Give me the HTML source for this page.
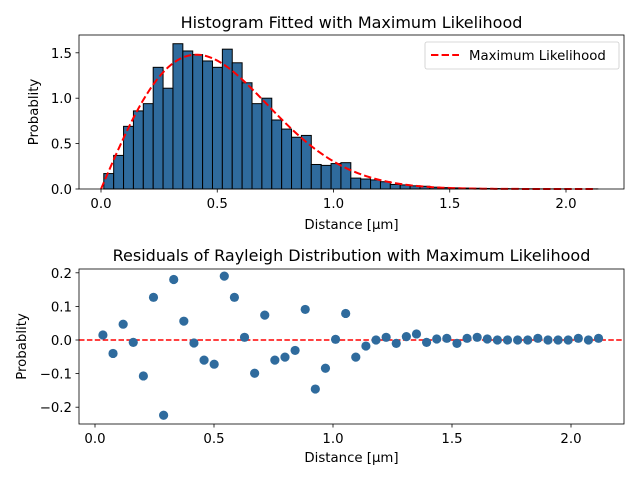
<!DOCTYPE html>
<html><head><meta charset="utf-8"><style>
body{margin:0;background:#fff}
svg{display:block;font-family:"DejaVu Sans","Liberation Sans",sans-serif}
</style></head><body>
<svg id="fig" width="640" height="480" viewBox="0 0 640 480"></svg>
<script>
const binStart = 0.012;
const binWidth = 0.0425;
const histHeights = [0.17,0.37,0.69,0.86,0.94,1.34,1.11,1.60,1.52,1.48,1.41,1.34,1.54,1.39,1.17,0.94,1.00,0.76,0.66,0.57,0.59,0.27,0.26,0.28,0.29,0.12,
 0.11,0.10,0.08,0.05,0.045,0.035,0.03,0.02,0.015,0.012,0.01,0.008,0.006,0.005,0.004,0.003,0.002,0.002,0.001,0.001,0.001,0,0,0.001];
const residuals = [0.015,-0.04,0.047,-0.007,-0.107,0.127,-0.224,0.18,0.056,-0.009,-0.06,-0.072,0.19,0.127,0.008,-0.099,0.074,-0.06,-0.051,-0.031,0.091,-0.146,-0.084,0.002,0.079,-0.051,-0.018,
 0,0.008,-0.01,0.01,0.018,-0.007,0.003,0.005,-0.01,0.005,0.008,0.003,0,0,0,0,0.005,0,0,0,0.005,0,0.005];
const sigma = 0.41;
const xTicks = [0.0,0.5,1.0,1.5,2.0];
const xTickLabels = ["0.0","0.5","1.0","1.5","2.0"];
const topYTicks = [0,0.5,1.0,1.5];
const topYTickLabels = ["0.0","0.5","1.0","1.5"];
const botYTicks = [0.2,0.1,0,-0.1,-0.2];
const botYTickLabels = ["0.2","0.1","0.0","\u22120.1","\u22120.2"];

const NS="http://www.w3.org/2000/svg";
const svg=document.getElementById('fig');
function mk(tag,attrs,parent){const e=document.createElementNS(NS,tag);for(const k in attrs)e.setAttribute(k,attrs[k]);(parent||svg).appendChild(e);return e;}
function txt(s,attrs,parent){const e=mk('text',attrs,parent);e.textContent=s;return e;}
const FS=13.3, TFS=16;

const T={l:79,r:624,t:35,b:189};
const tx=v=>101+v*232.5;
const ty=v=>189-v*90.8;
const B={l:79,r:624,t:269,b:424};
const bx=v=>95+v*238;
const by=v=>340-v*336;

function axes(name){
  const g=mk('g',{});
  
  
  return g;
}
const gt=axes('histogram-axes');
histHeights.forEach((h,i)=>{
  const x0=tx(binStart+i*binWidth), x1=tx(binStart+(i+1)*binWidth);
  const r=mk('rect',{x:x0,y:ty(h),width:x1-x0,height:ty(0)-ty(h),fill:'#2f6b9d',stroke:'#000','stroke-width':1},gt);
  
  
});
let d='';
for(let i=0;i<=200;i++){const x=i*2.13/200;const y=x/(sigma*sigma)*Math.exp(-x*x/(2*sigma*sigma));d+=(i?'L':'M')+tx(x).toFixed(2)+','+ty(y).toFixed(2);}
const fit=mk('path',{d:d,fill:'none',stroke:'#ff0000','stroke-width':2,'stroke-dasharray':'7.4,3.2'},gt);


mk('rect',{x:T.l,y:T.t,width:T.r-T.l,height:T.b-T.t,fill:'none',stroke:'#000','stroke-width':0.8},gt);
xTicks.forEach((v,i)=>{mk('line',{x1:tx(v),x2:tx(v),y1:T.b,y2:T.b+3.5,stroke:'#000','stroke-width':0.8},gt);
  const t=txt(xTickLabels[i],{x:tx(v),y:T.b+19,'font-size':FS,'text-anchor':'middle'},gt);});
topYTicks.forEach((v,i)=>{mk('line',{x1:T.l-3.5,x2:T.l,y1:ty(v),y2:ty(v),stroke:'#000','stroke-width':0.8},gt);
  const t=txt(topYTickLabels[i],{x:T.l-7,y:ty(v)+5,'font-size':FS,'text-anchor':'end'},gt);});
let t1=txt('Histogram Fitted with Maximum Likelihood',{x:(T.l+T.r)/2,y:28,'font-size':TFS,'text-anchor':'middle'},gt);

let xl1=txt('Distance [\u03bcm]',{x:(T.l+T.r)/2,y:229,'font-size':FS,'text-anchor':'middle'},gt);

let yl1=txt('Probablity',{x:0,y:0,'font-size':FS,'text-anchor':'middle',transform:`translate(38,${(T.t+T.b)/2}) rotate(-90)`},gt);

const lg=mk('g',{},gt);

mk('rect',{x:425,y:42,width:194,height:27,rx:2,fill:'#fff',stroke:'#ccc','stroke-width':0.8},lg);
mk('line',{x1:431,x2:459,y1:55,y2:55,stroke:'#ff0000','stroke-width':2,'stroke-dasharray':'7.4,3.2'},lg);
let le=txt('Maximum Likelihood',{x:469,y:60,'font-size':FS},lg);


const gb=axes('residuals-axes');
const zl=mk('line',{x1:B.l,x2:B.r,y1:by(0),y2:by(0),stroke:'#ff0000','stroke-width':1.5,'stroke-dasharray':'5.5,2.4'},gb);


residuals.forEach((r,i)=>{
  const c=mk('circle',{cx:bx(binStart+(i+0.5)*binWidth),cy:by(r),r:4.6,fill:'#2f6b9d'},gb);
  
  
});
mk('rect',{x:B.l,y:B.t,width:B.r-B.l,height:B.b-B.t,fill:'none',stroke:'#000','stroke-width':0.8},gb);
xTicks.forEach((v,i)=>{mk('line',{x1:bx(v),x2:bx(v),y1:B.b,y2:B.b+3.5,stroke:'#000','stroke-width':0.8},gb);
  const t=txt(xTickLabels[i],{x:bx(v),y:B.b+19,'font-size':FS,'text-anchor':'middle'},gb);});
botYTicks.forEach((v,i)=>{mk('line',{x1:B.l-3.5,x2:B.l,y1:by(v),y2:by(v),stroke:'#000','stroke-width':0.8},gb);
  const t=txt(botYTickLabels[i],{x:B.l-7,y:by(v)+5,'font-size':FS,'text-anchor':'end'},gb);});
let t2=txt('Residuals of Rayleigh Distribution with Maximum Likelihood',{x:(B.l+B.r)/2,y:261,'font-size':TFS,'text-anchor':'middle'},gb);

let xl2=txt('Distance [\u03bcm]',{x:(B.l+B.r)/2,y:462,'font-size':FS,'text-anchor':'middle'},gb);

let yl2=txt('Probablity',{x:0,y:0,'font-size':FS,'text-anchor':'middle',transform:`translate(26,${(B.t+B.b)/2}) rotate(-90)`},gb);

</script>
</body></html>
